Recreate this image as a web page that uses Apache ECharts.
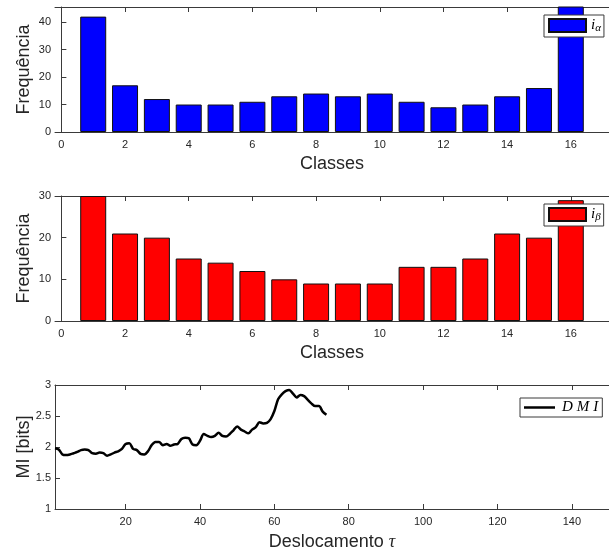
<!DOCTYPE html>
<html>
<head>
<meta charset="utf-8">
<script src="https://cdn.jsdelivr.net/npm/echarts@6/dist/echarts.min.js"></script>
<style>
  html, body { margin: 0; padding: 0; background: #fff; }
  #chart { width: 609px; height: 555px; }
</style>
</head>
<body>
<div id="chart"></div>
<script>
// classes 1..16
const classes = [1, 2, 3, 4, 5, 6, 7, 8, 9, 10, 11, 12, 13, 14, 15, 16];
const freqAlpha = [42, 17, 12, 10, 10, 11, 13, 14, 13, 14, 11, 9, 10, 13, 16, 48];
const freqBeta = [30, 21, 20, 15, 14, 12, 10, 9, 9, 9, 13, 13, 15, 21, 20, 29];

// deslocamento tau and mutual information
const tau = [];
for (let i = 1; i <= 74; i++) tau.push(i);
const dmi = [
  1.98, 1.96, 1.88, 1.87, 1.88, 1.90, 1.92, 1.95, 1.96, 1.95,
  1.90, 1.89, 1.91, 1.90, 1.86, 1.88, 1.91, 1.93, 1.97, 2.05,
  2.06, 1.97, 1.95, 1.89, 1.88, 1.93, 2.03, 2.08, 2.08, 2.03,
  2.05, 2.02, 2.04, 2.05, 2.13, 2.15, 2.14, 2.04, 2.03, 2.10,
  2.21, 2.18, 2.16, 2.18, 2.23, 2.18, 2.17, 2.21, 2.27, 2.33,
  2.28, 2.25, 2.22, 2.28, 2.32, 2.40, 2.38, 2.39, 2.45, 2.58,
  2.77, 2.85, 2.90, 2.92, 2.86, 2.80, 2.84, 2.82, 2.76, 2.70,
  2.66, 2.66, 2.57, 2.52
];

// tick labels
const classTicks = [0, 2, 4, 6, 8, 10, 12, 14, 16];
const alphaTicks = [0, 10, 20, 30, 40];
const betaTicks = [0, 10, 20, 30];
const tauTicks = [20, 40, 60, 80, 100, 120, 140];
const miTicks = [1, 1.5, 2, 2.5, 3];

const sans = 'Liberation Sans, Arial, Helvetica, sans-serif';
const serif = 'Liberation Serif, DejaVu Serif, serif';
const axisCol = '#3a3a3a';
const textCol = '#262626';

const chart = echarts.init(document.getElementById('chart'));

function bottomAxis(grid, min, max, ticks, name) {
  return {
    type: 'value', gridIndex: grid, position: 'bottom', min: min, max: max,
    name: name, nameLocation: 'middle', nameGap: 23, nameMoveOverlap: false,
    nameTextStyle: { fontFamily: sans, fontSize: 18, color: textCol,
      rich: { t: { fontFamily: serif, fontStyle: 'italic', fontSize: 18, color: textCol } } },
    axisLine: { show: true, lineStyle: { color: axisCol, width: 1 } },
    axisTick: { show: true, inside: true, length: 5, customValues: ticks, lineStyle: { color: axisCol } },
    axisLabel: { customValues: ticks, margin: 7, fontFamily: sans, fontSize: 11, color: textCol },
    splitLine: { show: false }
  };
}
function topAxis(grid, min, max, ticks) {
  return {
    type: 'value', gridIndex: grid, position: 'top', min: min, max: max,
    axisLine: { show: true, lineStyle: { color: axisCol, width: 1 } },
    axisTick: { show: true, inside: true, length: 5, customValues: ticks, lineStyle: { color: axisCol } },
    axisLabel: { show: false },
    splitLine: { show: false }
  };
}
function leftAxis(grid, min, max, ticks, name) {
  return {
    type: 'value', gridIndex: grid, min: min, max: max,
    name: name, nameLocation: 'middle', nameGap: 22, nameMoveOverlap: false,
    nameTextStyle: { fontFamily: sans, fontSize: 18, color: textCol },
    axisLine: { show: true, lineStyle: { color: axisCol, width: 1 } },
    axisTick: { show: true, inside: true, length: 5, customValues: ticks, lineStyle: { color: axisCol } },
    axisLabel: { customValues: ticks, margin: 4, fontFamily: sans, fontSize: 11, color: textCol },
    splitLine: { show: false }
  };
}
function legendBox(name, left, top, extra) {
  return Object.assign({
    data: [{ name: name, icon: 'rect' }], left: left, top: top, orient: 'horizontal',
    selectedMode: false, backgroundColor: '#fff',
    borderColor: axisCol, borderWidth: 1, borderRadius: 0,
    padding: [3, 3, 3, 4], itemWidth: 37, itemHeight: 13, itemGap: 0
  }, extra);
}

const subRich = {
  i: { fontFamily: serif, fontStyle: 'italic', fontSize: 15, color: '#000' },
  s: { fontFamily: serif, fontStyle: 'italic', fontSize: 11, color: '#000', padding: [6, 0, 0, 0] }
};

const option = {
  animation: false,
  backgroundColor: '#fff',
  grid: [
    { left: 55, top: 7, width: 562, height: 125 },
    { left: 55, top: 196, width: 562, height: 125 },
    { left: 55, top: 385, width: 562, height: 124 }
  ],
  xAxis: [
    bottomAxis(0, -0.2, 17.2, classTicks, 'Classes'),
    topAxis(0, -0.2, 17.2, classTicks),
    bottomAxis(1, -0.2, 17.2, classTicks, 'Classes'),
    topAxis(1, -0.2, 17.2, classTicks),
    Object.assign(bottomAxis(2, 1, 150, tauTicks, 'Deslocamento {t|τ}'), { nameGap: 24 }),
    topAxis(2, 1, 150, tauTicks)
  ],
  yAxis: [
    leftAxis(0, 0, 45.5, alphaTicks, 'Frequência'),
    leftAxis(1, 0, 30, betaTicks, 'Frequência'),
    leftAxis(2, 1, 3, miTicks, 'MI [bits]')
  ],
  legend: [
    legendBox('iα', 544, 15, {
      formatter: () => '{i|i}{s|α}',
      textStyle: { rich: subRich }
    }),
    legendBox('iβ', 544, 204, {
      formatter: () => '{i|i}{s|β}',
      textStyle: { rich: subRich }
    }),
    legendBox('DMI', 520, 398, {
      padding: [2, 4, 2, 4], itemWidth: 31, itemHeight: 2.5,
      formatter: () => '{a|D}{a|M}{a|I}',
      textStyle: { rich: {
        a: { fontFamily: serif, fontStyle: 'italic', fontSize: 15, color: '#000', padding: [0, 2, 0, 2] }
      } }
    })
  ],
  series: [
    {
      name: 'iα', type: 'bar', xAxisIndex: 0, yAxisIndex: 0,
      data: classes.map((c, i) => [c, freqAlpha[i]]),
      barWidth: 26, clip: true,
      itemStyle: { color: '#0000ff', borderColor: '#111', borderWidth: 1 }
    },
    {
      name: 'iβ', type: 'bar', xAxisIndex: 2, yAxisIndex: 1,
      data: classes.map((c, i) => [c, freqBeta[i]]),
      barWidth: 26, clip: true,
      itemStyle: { color: '#ff0000', borderColor: '#111', borderWidth: 1 }
    },
    {
      name: 'DMI', type: 'line', xAxisIndex: 4, yAxisIndex: 2,
      data: tau.map((t, i) => [t, dmi[i]]),
      smooth: 0.3, symbol: 'none', showSymbol: false,
      itemStyle: { color: '#000' },
      lineStyle: { color: '#000', width: 2.5 }
    }
  ]
};
chart.setOption(option);
</script>
</body>
</html>
